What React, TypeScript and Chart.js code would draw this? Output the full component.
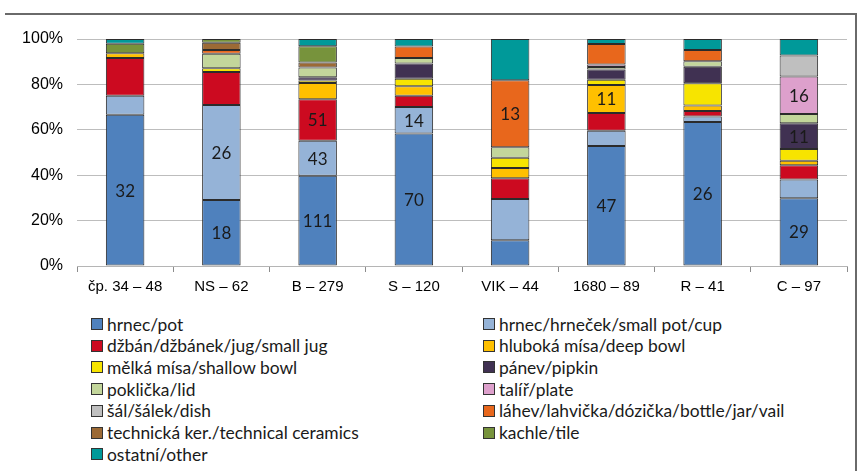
import React, { useEffect, useRef } from "react";
import { Chart, registerables } from "chart.js";

Chart.register(...registerables);

const categories = ["čp. 34 – 48", "NS – 62", "B – 279", "S – 120", "VIK – 44", "1680 – 89", "R – 41", "C – 97"];
const totals = [48, 62, 279, 120, 44, 89, 41, 97];

const pot = [32, 18, 111, 70, 5, 47, 26, 29];
const smallPot = [4, 26, 43, 14, 8, 6, 1, 8];
const jug = [8, 9, 51, 6, 4, 7, 1, 6];
const deepBowl = [1, 0, 20, 5, 2, 11, 1, 2];
const shallowBowl = [0, 1, 3, 4, 2, 2, 4, 5];
const pipkin = [0, 0, 4, 8, 0, 4, 3, 11];
const lid = [0, 4, 12, 3, 2, 1, 1, 4];
const plate = [0, 0, 0, 0, 0, 1, 0, 16];
const dish = [0, 0, 0, 0, 0, 0, 0, 9];
const bottle = [0, 1, 0, 6, 13, 8, 2, 0];
const technical = [0, 2, 6, 0, 0, 0, 0, 0];
const tile = [2, 1, 20, 0, 0, 0, 0, 0];
const other = [1, 0, 9, 4, 8, 2, 2, 7];

const yTicks = [0, 20, 40, 60, 80, 100];

const series = [
  { name: "hrnec/pot", counts: pot, color: "#4F81BD" },
  { name: "hrnec/hrneček/small pot/cup", counts: smallPot, color: "#95B3D7" },
  { name: "džbán/džbánek/jug/small jug", counts: jug, color: "#CC0A20" },
  { name: "hluboká mísa/deep bowl", counts: deepBowl, color: "#FFC000" },
  { name: "mělká mísa/shallow bowl", counts: shallowBowl, color: "#F7E400" },
  { name: "pánev/pipkin", counts: pipkin, color: "#403152" },
  { name: "poklička/lid", counts: lid, color: "#C3D69B" },
  { name: "talíř/plate", counts: plate, color: "#DDA0CC" },
  { name: "šál/šálek/dish", counts: dish, color: "#BFBFBF" },
  { name: "láhev/lahvička/dózička/bottle/jar/vail", counts: bottle, color: "#E8671C" },
  { name: "technická ker./technical ceramics", counts: technical, color: "#9C6A35" },
  { name: "kachle/tile", counts: tile, color: "#77933C" },
  { name: "ostatní/other", counts: other, color: "#009999" },
];

const countLabels = {
  id: "countLabels",
  afterDatasetsDraw(chart: any) {
    const ctx = chart.ctx;
    ctx.save();
    ctx.font = "17px Lato";
    ctx.fillStyle = "#1a1a1a";
    ctx.textAlign = "center";
    ctx.textBaseline = "middle";
    chart.data.datasets.forEach((ds: any, i: number) => {
      const meta = chart.getDatasetMeta(i);
      meta.data.forEach((el: any, j: number) => {
        const c = ds.counts[j];
        const pct = (c / totals[j]) * 100;
        if (c >= 10 && pct >= 10) {
          ctx.fillText(String(c), el.x, (el.y + el.base) / 2 + 1);
        }
      });
    });
    ctx.restore();
  },
};

export default function App() {
  const ref = useRef<HTMLCanvasElement | null>(null);

  useEffect(() => {
    if (!ref.current) return;
    const chart = new Chart(ref.current, {
      type: "bar",
      data: {
        labels: categories,
        datasets: series.map((s) => ({
          label: s.name,
          counts: s.counts,
          data: s.counts.map((c, j) => (c === 0 ? null : (c / totals[j]) * 100)),
          backgroundColor: s.color,
          borderColor: "#2b2b2b",
          borderWidth: 1,
          borderSkipped: false,
          categoryPercentage: 1,
          barPercentage: 0.4,
        })) as any,
      },
      options: {
        animation: false,
        responsive: false,
        maintainAspectRatio: false,
        layout: { padding: { top: 39, left: 0, right: 12, bottom: 0 } },
        plugins: { legend: { display: false }, tooltip: { enabled: false } },
        scales: {
          x: {
            stacked: true,
            grid: { display: true, drawOnChartArea: false, drawTicks: true, tickLength: 6, offset: true, color: "#8c8c8c" },
            border: { display: true, color: "#b5b5b5" },
            ticks: { color: "#000", font: { family: "Liberation Sans", size: 15 }, padding: 6, maxRotation: 0, autoSkip: false },
            afterFit: (scale: any) => {
              scale.height = 34;
            },
          },
          y: {
            stacked: true,
            min: 0,
            max: 100,
            afterBuildTicks: (scale: any) => {
              scale.ticks = yTicks.map((v) => ({ value: v }));
            },
            grid: { color: "#bdbdbd", drawTicks: false, lineWidth: 1 },
            border: { display: false },
            ticks: {
              color: "#000",
              font: { family: "Liberation Sans", size: 16 },
              padding: 14,
              callback: (v: any) => v + "%",
            },
            afterFit: (scale: any) => {
              scale.width = 77;
            },
          },
        },
      },
      plugins: [countLabels],
    });
    return () => chart.destroy();
  }, []);

  return (
    <div style={{ position: "fixed", left: 0, top: 0, width: 859, height: 471, background: "#fff", overflow: "hidden" }}>
      <div
        style={{
          position: "absolute",
          left: 5,
          top: 13,
          width: 850,
          height: 500,
          borderTop: "2px solid #6a6a6a",
          borderRight: "2px solid #6a6a6a",
        }}
      />
      <canvas ref={ref} width={859} height={300} style={{ position: "absolute", left: 0, top: 0, width: 859, height: 300 }} />
      {series.map((s, i) => {
        const col = i % 2;
        const row = Math.floor(i / 2);
        const left = col === 0 ? 91 : 483;
        const top = 324 + row * 21.7;
        return (
          <div
            key={s.name}
            style={{
              position: "absolute",
              left,
              top: top - 11,
              height: 22,
              display: "flex",
              alignItems: "center",
              whiteSpace: "nowrap",
              fontFamily: "Lato",
              fontSize: 17.4,
              color: "#1a1a1a",
            }}
          >
            <span
              style={{
                display: "inline-block",
                width: 10,
                height: 10,
                border: "1px solid #333",
                background: s.color,
                marginRight: 4,
                flexShrink: 0,
              }}
            />
            <span>{s.name}</span>
          </div>
        );
      })}
    </div>
  );
}
